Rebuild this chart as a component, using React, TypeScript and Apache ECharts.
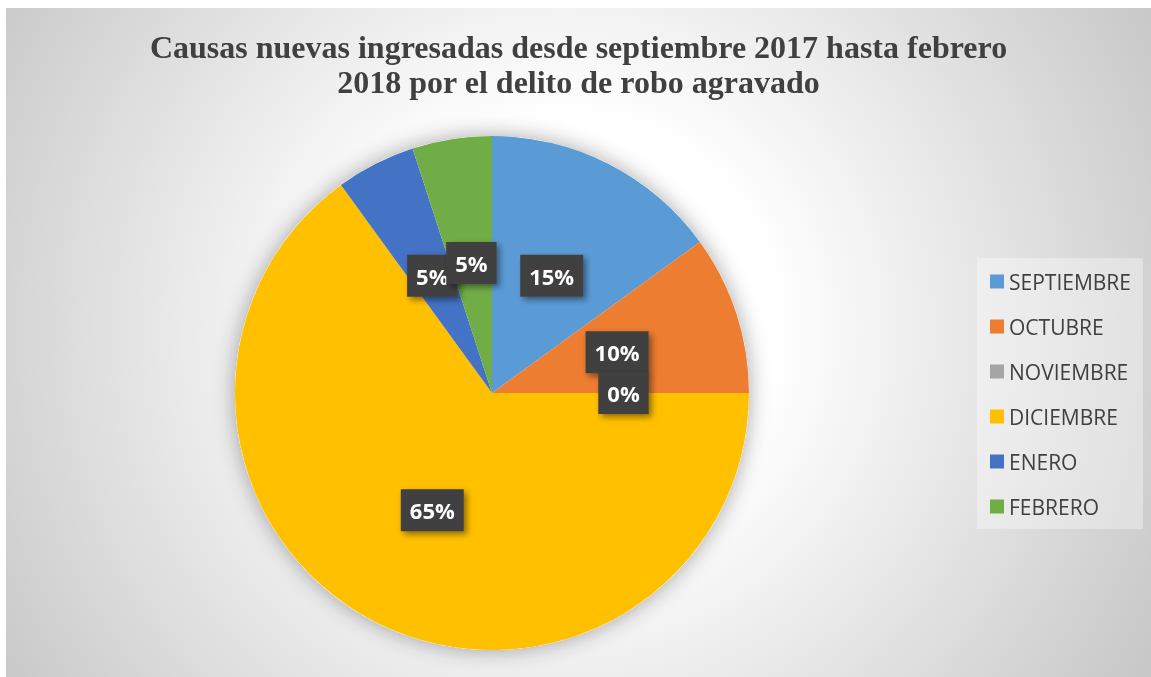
import React, { useEffect, useRef } from "react";
import * as echarts from "echarts";

const titleText = "Causas nuevas ingresadas desde septiembre 2017 hasta febrero\n2018 por el delito de robo agravado";
const months = ["SEPTIEMBRE", "OCTUBRE", "NOVIEMBRE", "DICIEMBRE", "ENERO", "FEBRERO"];
const counts = [3, 2, 0, 13, 1, 1];
const colors = ["#5B9BD5", "#ED7D31", "#A5A5A5", "#FFC000", "#4472C4", "#70AD47"];

export default function App() {
  const ref = useRef<HTMLDivElement>(null);
  useEffect(() => {
    if (!ref.current) return;
    const chart = echarts.init(ref.current, null, { renderer: "svg" });
    chart.setOption({
      animation: false,
      backgroundColor: {
        type: "radial",
        x: 560,
        y: 320,
        r: 700,
        global: true,
        colorStops: [
          { offset: 0, color: "#ffffff" },
          { offset: 0.3, color: "#ffffff" },
          { offset: 1, color: "#c4c4c4" },
        ],
      },
      title: {
        text: titleText,
        left: "center",
        top: 16,
        textStyle: {
          fontFamily: "Liberation Serif",
          fontWeight: "bold",
          fontSize: 32,
          lineHeight: 35,
          color: "#404040",
          align: "center",
        },
      },
      legend: {
        orient: "vertical",
        left: 971,
        top: 250,
        data: months,
        icon: "rect",
        itemWidth: 14,
        itemHeight: 14,
        itemGap: 24,
        padding: [13, 12, 12, 13],
        backgroundColor: "rgba(255,255,255,0.35)",
        textStyle: {
          fontFamily: "Open Sans",
          fontSize: 21,
          lineHeight: 20,
          color: "#404040",
        },
      },
      series: [
        {
          type: "pie",
          silent: true,
          center: [486, 385],
          radius: 257,
          z: 1,
          label: { show: false },
          labelLine: { show: false },
          itemStyle: {
            color: "#ffffff",
            shadowBlur: 22,
            shadowColor: "rgba(0,0,0,0.35)",
          },
          data: [{ value: 1, name: "__bg" }],
        },
        {
          type: "pie",
          center: [486, 385],
          radius: 257,
          z: 2,
          startAngle: 90,
          clockwise: true,
          avoidLabelOverlap: false,
          minShowLabelAngle: 0,
          labelLayout: { hideOverlap: false },
          data: months.map((m, i) => ({
            name: m,
            value: counts[i],
            itemStyle: { color: colors[i] },
          })),
          label: {
            show: true,
            position: "inside",
            formatter: "{d}%",
            color: "#ffffff",
            fontFamily: "Open Sans",
            fontWeight: "bold",
            fontSize: 22,
            lineHeight: 26,
            backgroundColor: "#414141",
            padding: [8, 9],
            shadowBlur: 6,
            shadowColor: "rgba(0,0,0,0.45)",
            shadowOffsetX: 3,
            shadowOffsetY: 3,
          },
          labelLine: { show: false },
        },
      ],
    });
    return () => chart.dispose();
  }, []);
  return (
    <div
      ref={ref}
      style={{
        position: "fixed",
        left: 6,
        top: 8,
        width: 1145,
        height: 669,
      }}
    />
  );
}
